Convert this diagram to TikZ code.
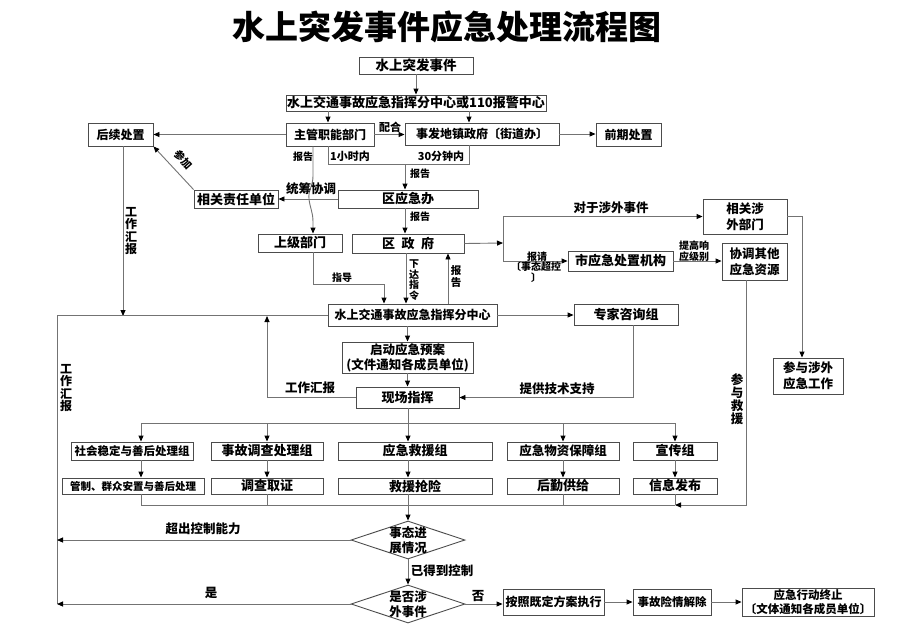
\documentclass[tikz,border=0pt]{standalone}
\usepackage{fontspec}
\newfontfamily\cjk{Noto Sans CJK SC}
\usetikzlibrary{arrows.meta,shapes.geometric,calc}
\newcommand\fz[1]{\fontsize{#1}{#1}\selectfont}
\newcommand\mybox[7][]{\node[box,minimum width=#5pt,minimum height=#6pt,#1] (#2) at (#3,#4) {#7};}
\begin{document}
\begin{tikzpicture}[x=1pt,y=-1pt,
  box/.style={draw=black!70, line width=0.9pt, fill=white, inner sep=0pt,
    font=\cjk\bfseries\fontsize{12}{14}\selectfont, align=center},
  ln/.style={draw=black!55, line width=0.9pt},
  arr/.style={ln, -{Triangle[length=6pt,width=5pt,color=black]}},
  lab/.style={font=\cjk\bfseries\fontsize{12.5}{13}\selectfont, inner sep=0pt, align=center},
  slab/.style={font=\cjk\bfseries\fontsize{10}{11}\selectfont, inner sep=0pt, align=center},
  vlab/.style={font=\cjk\bfseries\fontsize{12}{12.5}\selectfont, inner sep=0pt, align=center},
  vslab/.style={font=\cjk\bfseries\fontsize{10}{10.5}\selectfont, inner sep=0pt, align=center},
  dia/.style={draw=black!70, line width=0.9pt, diamond, inner sep=0pt,
    minimum width=114pt, minimum height=38pt, fill=white},
]
\useasboundingbox[fill=white] (0,0) rectangle (920,637);

% title
\node[font=\cjk\bfseries\fontsize{33}{36}\selectfont, inner sep=0pt] (title) at (447,27) {水上突发事件应急处理流程图};

% boxes
\mybox[font=\cjk\bfseries\fz{13.5}]{top}{416}{65.5}{114}{17}{水上突发事件}
\mybox[font=\cjk\bfseries\fz{13}]{c110}{416}{103}{260}{16}{水上交通事故应急指挥分中心或110报警中心}
\mybox{zhuguan}{330}{134.5}{88}{23}{主管职能部门}
\mybox{shifadi}{482}{134}{154}{22}{事发地镇政府〔街道办〕}
\mybox{qianqi}{628.5}{134.5}{65}{23}{前期处置}
\mybox{houxu}{120.5}{134.5}{65}{23}{后续处置}
\mybox[font=\cjk\bfseries\fz{13}]{xgzr}{236}{199}{84}{18}{相关责任单位}
\mybox[font=\cjk\bfseries\fz{13}]{qyjb}{408}{199}{140}{18}{区应急办}
\mybox[font=\cjk\bfseries\fz{13}]{shangji}{300}{243}{84}{18}{上级部门}
\mybox[font=\cjk\bfseries\fz{13}]{qzf}{408}{243.5}{112}{19}{区\hspace{0.5em}政\hspace{0.5em}府}
\mybox{fzx}{412.5}{315}{169}{22}{水上交通事故应急指挥分中心}
\mybox[font=\cjk\bfseries\fz{13}]{zjzx}{626}{314.5}{104}{21}{专家咨询组}
\mybox[font=\cjk\bfseries\fontsize{12.5}{15}\selectfont]{qidong}{407.5}{357.5}{131}{31}{启动应急预案\\(文件通知各成员单位)}
\mybox[font=\cjk\bfseries\fz{13}]{xczh}{407.5}{397.5}{103}{21}{现场指挥}
\mybox[font=\cjk\bfseries\fontsize{12.5}{16}\selectfont]{swbm}{745}{216.5}{84}{35}{相关涉\\外部门}
\mybox[font=\cjk\bfseries\fz{13}]{syj}{620.5}{261}{105}{20}{市应急处置机构}
\mybox[font=\cjk\bfseries\fontsize{12.5}{16}\selectfont]{xtqt}{754.5}{261.5}{65}{37}{协调其他\\应急资源}
\mybox[font=\cjk\bfseries\fontsize{12.5}{16}\selectfont]{cysw}{808}{376}{70}{36}{参与涉外\\应急工作}

\mybox[font=\cjk\bfseries\fz{11.5}]{g1}{132}{451}{122}{18}{社会稳定与善后处理组}
\mybox[font=\cjk\bfseries\fz{13}]{g2}{267}{451}{112}{18}{事故调查处理组}
\mybox[font=\cjk\bfseries\fz{13}]{g3}{415}{451}{154}{18}{应急救援组}
\mybox[font=\cjk\bfseries\fz{12.5}]{g4}{563}{451}{112}{18}{应急物资保障组}
\mybox[font=\cjk\bfseries\fz{13}]{g5}{675}{451}{84}{18}{宣传组}
\mybox[font=\cjk\bfseries\fz{10.5}]{r1}{133}{486}{142}{16}{管制、群众安置与善后处理}
\mybox[font=\cjk\bfseries\fz{13}]{r2}{267}{486}{112}{16}{调查取证}
\mybox[font=\cjk\bfseries\fz{13}]{r3}{415}{486}{154}{16}{救援抢险}
\mybox[font=\cjk\bfseries\fz{13}]{r4}{563}{486}{112}{16}{后勤供给}
\mybox[font=\cjk\bfseries\fz{13}]{r5}{675}{486}{84}{16}{信息发布}

\node[dia] (d1) at (408,540) {};
\node[lab, font=\cjk\bfseries\fontsize{12.5}{15}\selectfont] (d1t) at (d1) {事态进\\展情况};
\node[dia] (d2) at (408,604) {};
\node[lab, font=\cjk\bfseries\fontsize{12.5}{15}\selectfont] (d2t) at (d2) {是否涉\\外事件};

\mybox[font=\cjk\bfseries\fz{12}]{b1}{553.5}{602}{101}{26}{按照既定方案执行}
\mybox[font=\cjk\bfseries\fz{11.5}]{b2}{672}{602}{78}{26}{事故险情解除}
\mybox[font=\cjk\bfseries\fontsize{11.5}{14}\selectfont]{b3}{808}{602}{132}{28}{应急行动终止\\〔文体通知各成员单位〕}

% helper coordinates
\coordinate (xa) at (328,0);
\coordinate (xb) at (469,0);
\coordinate (m) at (405,164);
\coordinate (hx) at (123,316);
\coordinate (LT) at (57,316);
\coordinate (LB) at (57,604);
\coordinate (g) at (384,284);
\coordinate (xs) at (313,0);
\coordinate (xd) at (406,0);
\coordinate (xu) at (448,0);
\coordinate (br) at (503,243);
\coordinate (sr) at (802,217);
\coordinate (xr) at (746,505);
\coordinate (zx) at (633,0);
\coordinate (wx) at (267,316);
\coordinate (D1) at (141,423);
\coordinate (D2) at (267,423);
\coordinate (D3) at (408,423);
\coordinate (D4) at (563,423);
\coordinate (D5) at (675,423);
\coordinate (C1) at (141,505);
\coordinate (C2) at (267,505);
\coordinate (C3) at (408,505);
\coordinate (C4) at (563,505);
\coordinate (C5) at (675,505);

% connectors top part
\draw[arr] (top.south) -- (c110.north);
\draw[arr] (c110.south -| xa) -- (zhuguan.north -| xa);
\draw[arr] (c110.south -| xb) -- (shifadi.north -| xb);
\draw[arr] (zhuguan.east) -- (zhuguan.east -| shifadi.west);
\node[slab, font=\cjk\bfseries\fz{11}] (lpeihe) at (390,127) {配合};
\draw[arr] (shifadi.east) -- (shifadi.east -| qianqi.west);
\draw[arr] (zhuguan.west) -- (houxu.east);
\draw[ln] (zhuguan.south -| xa) |- (m);
\draw[ln] (shifadi.south -| xb) |- (m);
\draw[arr] (m) -- (m |- qyjb.north);
\node[slab, font=\cjk\bfseries\fz{11}] (l1h) at (350,156) {1小时内};
\node[slab, font=\cjk\bfseries\fz{11}] (l30) at (441,156) {30分钟内};
\node[slab] (lbg1) at (303,157) {报告};
\node[slab] (lbg2) at (420,174) {报告};
\draw[arr] (zhuguan.south -| xs) -- (313,176) .. controls (313,186) and (308,190) .. (309,199)
   .. controls (310,208) and (313,212) .. (313,222) -- (shangji.north -| xs);
\draw[arr] (qyjb.west) -- (xgzr.east);
\node[lab] (ltc) at (311,189) {统筹协调};
\draw[arr] (xgzr.north west) -- (houxu.south east);
\node[font=\cjk\bfseries\fz{10.5}, inner sep=0pt, rotate=-48] (lcj) at (184,160) {参加};
\draw[arr] (houxu.south -| hx) -- (hx);
\node[vlab] (lgh1) at (131,231) {工\\作\\汇\\报};
\draw[ln] (fzx.west) -- (fzx.west -| LT) -- (LB);
\node[vlab] (lgh2) at (66,388) {工\\作\\汇\\报};

% middle
\draw[arr] (qyjb.south -| m) -- (qzf.north -| m);
\node[slab] (lbg3) at (420,217) {报告};
\draw[arr] (shangji.south -| xs) |- (g) -- (g |- fzx.north);
\node[slab] (lzd) at (342,278) {指导};
\draw[arr] (qzf.south -| xd) -- (fzx.north -| xd);
\node[vslab] (lxd) at (414,280) {下\\达\\指\\令};
\draw[arr] (fzx.north -| xu) -- (qzf.south -| xu);
\node[vslab, font=\cjk\bfseries\fontsize{10.5}{12}\selectfont] (lbg4) at (456,277) {报\\告};
\draw[arr] (qzf.east) -- (br);
\draw[ln] (swbm.west -| br) -- (syj.west -| br);
\draw[arr] (swbm.west -| br) -- (swbm.west);
\draw[arr] (syj.west -| br) -- (syj.west);
\node[lab] (ldy) at (611,208) {对于涉外事件};
\node[slab] (lbq1) at (537,257) {报请};
\node[slab] (lbq2) at (536,272) {〔事态超控\\〕};
\draw[arr] (syj.east) -- (syj.east -| xtqt.west);
\node[slab] (ltg) at (694,251) {提高响\\应级别};
\draw[arr] (swbm.east) -| (cysw.north -| sr);
\draw[arr] (xtqt.south -| xr) |- (C5);
\node[vlab, font=\cjk\bfseries\fontsize{12.5}{13}\selectfont] (lcy) at (737,399) {参\\与\\救\\援};

\draw[arr] (fzx.east) -- (fzx.east -| zjzx.west);
\draw[arr] (zjzx.south -| zx) |- (xczh.east);
\node[lab] (ljs) at (557,389) {提供技术支持};
\draw[arr] (fzx.south -| qidong.north) -- (qidong.north);
\draw[arr] (qidong.south) -- (xczh.north);
\draw[arr] (xczh.west) -| (wx);
\node[lab] (lgh3) at (310,388) {工作汇报};

% distribution
\draw[ln] (D1) -- (D5);
\draw[ln] (xczh.south -| D3) -- (D3);
\draw[arr] (D1) -- (g1.north -| D1);
\draw[arr] (D2) -- (g2.north -| D2);
\draw[arr] (D3) -- (g3.north -| D3);
\draw[arr] (D4) -- (g4.north -| D4);
\draw[arr] (D5) -- (g5.north -| D5);
\draw[arr] (g1.south -| D1) -- (r1.north -| D1);
\draw[arr] (g2.south -| D2) -- (r2.north -| D2);
\draw[arr] (g3.south -| D3) -- (r3.north -| D3);
\draw[arr] (g4.south -| D4) -- (r4.north -| D4);
\draw[arr] (g5.south -| D5) -- (r5.north -| D5);
\draw[ln] (r1.south -| C1) -- (C1) -- (C5);
\draw[ln] (r2.south -| C2) -- (C2);
\draw[ln] (r4.south -| C4) -- (C4);
\draw[ln] (r5.south -| C5) -- (C5);
\draw[arr] (r3.south -| C3) -- (d1.north);

% bottom
\draw[arr] (d1.west) -- (d1.west -| LT);
\node[lab] (lcc) at (203,529) {超出控制能力};
\draw[arr] (d1.south) -- (d2.north);
\node[lab] (lyd) at (442,571) {已得到控制};
\draw[arr] (d2.west) -- (d2.west -| LT);
\node[lab] (lshi) at (211,593) {是};
\draw[arr] (d2.east) -- (d2.east -| b1.west);
\node[lab] (lfou) at (478,596) {否};
\draw[arr] (b1.east) -- (b1.east -| b2.west);
\draw[arr] (b2.east) -- (b2.east -| b3.west);
\end{tikzpicture}
\end{document}
